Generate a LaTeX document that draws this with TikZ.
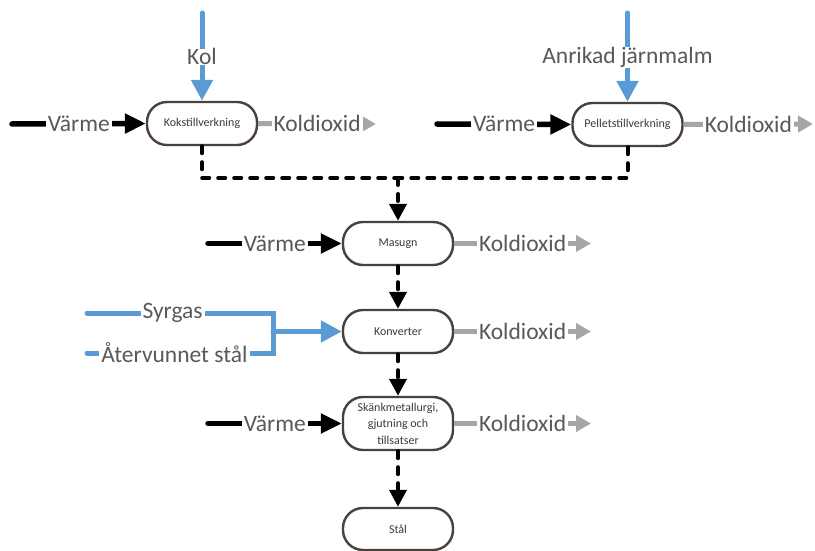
\documentclass[tikz,border=0pt]{standalone}
\usepackage{fontspec}
\setmainfont{Carlito}
\usetikzlibrary{arrows.meta}

\definecolor{boxline}{HTML}{4B403A}
\definecolor{feedblue}{HTML}{5B9BD5}
\definecolor{gasgray}{HTML}{A6A6A6}
\definecolor{labelgray}{HTML}{595959}
\definecolor{stepgray}{HTML}{3A3A3A}

\tikzset{
  process/.style={draw=boxline, line width=2.4pt, fill=white,
    rounded corners=20pt, minimum width=110pt, minimum height=43pt,
    inner sep=2pt, align=center, text=stepgray,
    font=\fontsize{12}{16.5}\selectfont},
  lbl/.style={fill=white, inner xsep=2pt, inner ysep=0pt, text=labelgray,
    font=\fontsize{23.5}{27}\selectfont},
  heat/.style={draw=black, line width=5.5pt, line cap=round,
    -{Triangle[length=21pt,width=19pt]}},
  exhaust/.style={draw=gasgray, line width=5pt,
    -{Triangle[length=15pt,width=16pt]}},
  feed/.style={draw=feedblue, line width=5pt, line cap=round},
  feedarrow/.style={feed, -{Triangle[length=21pt,width=21pt]}},
  flow/.style={draw=black, line width=4pt, line cap=round,
    dash pattern=on 7pt off 9pt},
  flowarrow/.style={flow, -{Triangle[length=17pt,width=17pt]}},
}

\begin{document}
\begin{tikzpicture}[x=1pt, y=-1pt]
\useasboundingbox (0,0) rectangle (815,551);

% process steps
\node[process] (kok) at (202,123.5) {Kokstillverkning};
\node[process] (pel) at (627.5,124.5) {Pelletstillverkning};
\node[process] (mas) at (398,243.5) {Masugn};
\node[process] (kon) at (398,331.5) {Konverter};
\node[process, minimum height=53pt] (ska) at (398,423.5) {Skänkmetallurgi,\\gjutning och\\tillsatser};
\node[process, minimum height=42pt] (stal) at (398,529) {Stål};

% free ends of the inputs and outputs
\coordinate (kolin) at (202,13);
\coordinate (malmin) at (627.5,13);
\coordinate (h1) at (12,124);
\coordinate (h2) at (437,124);
\coordinate (h3) at (208,243.5);
\coordinate (h4) at (208,423.5);
\coordinate (c1) at (376,124);
\coordinate (c2) at (813,124);
\coordinate (c3) at (591,243.5);
\coordinate (c4) at (591,331.5);
\coordinate (c5) at (591,423.5);
\coordinate (syr) at (87,313);
\coordinate (ater) at (87,353);
\coordinate (join) at (273,331.5);
\coordinate (merge) at (398,178);

% raw material feeds
\draw[feedarrow] (kolin) -- node[lbl, pos=0.5]{Kol} (kok.north);
\draw[feedarrow] (malmin) -- node[lbl, pos=0.5]{Anrikad järnmalm} (pel.north);

% heat inputs
\draw[heat] (h1) -- node[lbl]{Värme} (kok.west);
\draw[heat] (h2) -- node[lbl]{Värme} (pel.west);
\draw[heat] (h3) -- node[lbl]{Värme} (mas.west);
\draw[heat] (h4) -- node[lbl]{Värme} (ska.west);

% carbon dioxide outputs
\draw[exhaust] (kok.east) -- node[lbl]{Koldioxid} (c1);
\draw[exhaust] (pel.east) -- node[lbl]{Koldioxid} (c2);
\draw[exhaust] (mas.east) -- node[lbl]{Koldioxid} (c3);
\draw[exhaust] (kon.east) -- node[lbl]{Koldioxid} (c4);
\draw[exhaust] (ska.east) -- node[lbl]{Koldioxid} (c5);

% oxygen and scrap into the converter
\draw[feed] (syr) -- node[lbl, pos=0.46]{Syrgas} (syr -| join) -- (ater -| join)
  -- node[lbl, pos=0.53]{Återvunnet stål} (ater);
\draw[feedarrow] (join) -- (kon.west);

% main material flow
\draw[flow] (kok.south) |- (merge);
\draw[flow] (pel.south) |- (merge);
\draw[flowarrow] (merge) -- (mas.north);
\draw[flowarrow] (mas.south) -- (kon.north);
\draw[flowarrow] (kon.south) -- (ska.north);
\draw[flowarrow] (ska.south) -- (stal.north);
\end{tikzpicture}
\end{document}
